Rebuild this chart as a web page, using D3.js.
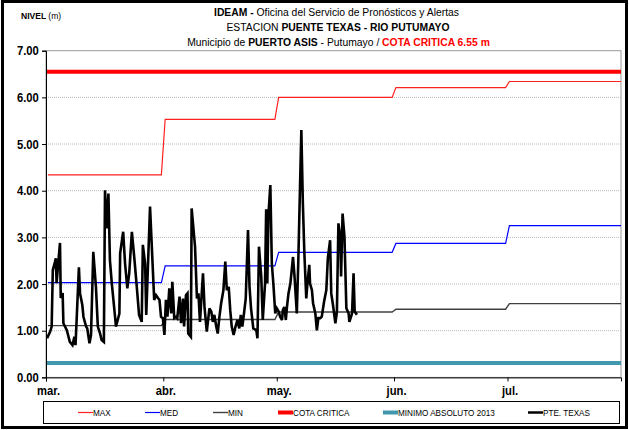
<!DOCTYPE html>
<html lang="es">
<head>
<meta charset="UTF-8">
<title>Nivel Puente Texas - Rio Putumayo</title>
<script src="https://d3js.org/d3.v7.min.js"></script>
<style>
    body { margin: 0; padding: 0; background: #fff; }
    svg { display: block; }
    text { font-family: "Liberation Sans Narrow", "Arial Narrow", "Liberation Sans", sans-serif; }
</style>
</head>
<body>
<svg id="chart" width="629" height="430"></svg>
<script>
// --- data ---
const monthLabels = ["mar.", "abr.", "may.", "jun.", "jul."];
const maxVals = [4.34, 5.53, 6.00, 6.21, 6.34];
const medVals = [2.03, 2.39, 2.68, 2.87, 3.25];
const minVals = [1.11, 1.24, 1.40, 1.46, 1.58];
const cotaCritica = 6.55;
const minimoAbsoluto = 0.31;
const yTicks = [0, 1, 2, 3, 4, 5, 6, 7];

// PTE. TEXAS readings: days after 1 March, level in m
const ptDays = [0.3, 1.1, 1.5, 1.8, 2.4, 2.6, 2.8, 3.3, 3.7, 3.9, 4.4, 4.6, 5.5, 6.3, 7.0, 7.5, 7.8, 8.1, 8.7, 9.0,
    9.6, 9.9, 10.6, 10.9, 11.5, 11.9, 12.5, 13.2, 13.7, 14.3, 14.7, 15.3, 15.6, 16.1, 16.5, 16.9, 17.4, 18.0, 18.5, 19.4,
    19.6, 20.4, 20.9, 21.5, 22.0, 22.7, 23.4, 24.0, 24.6, 25.3, 25.6, 26.2, 26.5, 27.5, 28.6, 29.1, 29.7, 30.0, 30.4, 30.9,
    31.3, 31.7, 32.1, 32.6, 33.1, 33.4, 33.9, 34.4, 34.7, 35.3, 35.7, 36.2, 36.5, 37.0, 37.4, 37.6, 38.3, 38.5, 39.4, 39.9,
    40.3, 40.7, 41.5, 41.9, 42.5, 43.2, 43.7, 44.1, 44.5, 45.0, 45.4, 45.8, 46.3, 46.9, 47.4, 47.8, 48.3, 48.7, 49.1, 49.6,
    50.1, 50.6, 51.1, 51.5, 51.9, 52.4, 52.8, 53.4, 53.8, 54.2, 54.8, 55.6, 55.9, 56.3, 56.9, 57.3, 57.9, 58.2, 58.5, 58.8,
    59.3, 59.7, 60.1, 60.6, 61.0, 61.5, 61.9, 62.4, 62.6, 63.0, 63.4, 63.7, 64.1, 64.6, 65.3, 65.7, 66.3, 66.7, 67.5, 67.9,
    68.3, 68.8, 69.1, 69.6, 69.8, 70.3, 70.6, 71.2, 71.6, 72.0, 72.5, 72.9, 73.5, 74.1, 74.5, 75.1, 75.4, 75.8, 76.5, 76.9,
    77.3, 77.8, 78.0, 78.4, 78.9, 79.4, 80.0, 80.2, 80.9, 81.3, 81.6, 82.2];
const ptLevels = [0.84, 0.98, 1.09, 2.30, 2.48, 2.55, 2.02, 2.51, 2.88, 1.70, 1.81, 1.16, 1.01, 0.76, 0.69, 0.87, 0.69, 1.23, 2.36, 1.80,
    1.55, 1.30, 1.09, 1.05, 0.73, 0.91, 2.69, 1.94, 1.09, 0.94, 0.80, 0.76, 4.01, 3.19, 3.94, 2.51, 2.01, 1.51, 1.09, 1.37,
    2.66, 3.12, 2.44, 1.91, 2.23, 3.12, 2.51, 1.94, 1.34, 1.19, 2.84, 2.44, 1.34, 3.66, 1.66, 1.76, 1.69, 1.66, 1.30, 1.27,
    0.91, 1.66, 1.30, 1.91, 1.37, 2.05, 1.27, 1.30, 1.27, 1.73, 1.16, 1.69, 1.09, 1.76, 1.80, 0.94, 0.87, 3.62, 2.80, 1.69,
    1.80, 1.19, 2.23, 1.51, 0.98, 1.48, 1.41, 1.19, 1.34, 1.09, 0.94, 1.27, 1.59, 1.87, 2.48, 1.87, 1.94, 1.44, 1.09, 0.91,
    1.09, 1.23, 1.05, 1.34, 1.09, 1.41, 1.69, 3.16, 1.94, 1.48, 1.05, 1.01, 0.84, 2.80, 2.16, 1.23, 2.01, 3.60, 2.01, 3.48,
    4.12, 2.44, 2.01, 1.37, 1.48, 1.41, 1.30, 1.23, 1.44, 1.51, 1.23, 1.51, 1.80, 2.01, 2.58, 2.16, 1.37, 2.51, 5.30, 3.73,
    2.66, 1.69, 2.01, 2.41, 2.01, 1.87, 1.59, 1.37, 1.01, 1.27, 1.27, 1.30, 1.62, 1.87, 2.55, 2.94, 1.80, 1.59, 1.16, 1.41,
    3.30, 3.01, 2.16, 3.51, 3.01, 1.48, 1.37, 1.19, 1.37, 2.23, 1.41, 1.34];

const DAY = 86400000;
const startDate = new Date(2014, 2, 1);
const endDate = new Date(2014, 6, 31);
const monthStarts = d3.timeMonth.range(startDate, endDate);

const plot = { left: 46, right: 621, top: 50.7, bottom: 377.4 };
const narrow = 0.9; // squeeze text horizontally, the original uses a condensed face

const svg = d3.select("#chart");

const x = d3.scaleTime().domain([startDate, endDate]).range([plot.left, plot.right]);
const y = d3.scaleLinear().domain([0, 7]).range([plot.bottom, plot.top]);

// monthly step series -> points at mid-day of first and last day of each month
const stepPoints = vals => {
    const pts = [];
    monthStarts.forEach((m, i) => {
        const next = d3.timeMonth.offset(m, 1);
        pts.push({ date: new Date(+m + DAY / 2), v: vals[i] });
        pts.push({ date: new Date(+next - DAY / 2), v: vals[i] });
    });
    return pts;
};

const ptData = ptDays.map((d, i) => ({ date: new Date(+startDate + d * DAY), v: ptLevels[i] }));

// clip
svg.append("defs").append("clipPath").attr("id", "clip")
    .append("rect")
    .attr("x", plot.left).attr("y", plot.top)
    .attr("width", plot.right - plot.left).attr("height", plot.bottom - plot.top);

// plot frame (grey top and right)
svg.append("rect")
    .attr("x", plot.left).attr("y", plot.top)
    .attr("width", plot.right - plot.left).attr("height", plot.bottom - plot.top)
    .attr("fill", "none").attr("stroke", "#999").attr("stroke-width", 1);

// grid
svg.append("g")
    .selectAll("line")
    .data(yTicks.filter(d => d > 0 && d < 7))
    .enter().append("line")
    .attr("x1", plot.left).attr("x2", plot.right)
    .attr("y1", d => y(d)).attr("y2", d => y(d))
    .attr("stroke", "#b8b8b8").attr("stroke-width", 1)
    .attr("stroke-dasharray", "1,1");

const line = d3.line().x(d => x(d.date)).y(d => y(d.v));
const g = svg.append("g").attr("clip-path", "url(#clip)");

// horizontal references
g.append("line")
    .attr("x1", plot.left).attr("x2", plot.right)
    .attr("y1", y(cotaCritica)).attr("y2", y(cotaCritica))
    .attr("stroke", "#ff0000").attr("stroke-width", 4);

g.append("line")
    .attr("x1", plot.left).attr("x2", plot.right)
    .attr("y1", y(minimoAbsoluto)).attr("y2", y(minimoAbsoluto))
    .attr("stroke", "#4197ad").attr("stroke-width", 4);

g.append("path").datum(stepPoints(maxVals))
    .attr("d", line).attr("fill", "none").attr("stroke", "#ff2020").attr("stroke-width", 1.2);
g.append("path").datum(stepPoints(medVals))
    .attr("d", line).attr("fill", "none").attr("stroke", "#0000ff").attr("stroke-width", 1.2);
g.append("path").datum(stepPoints(minVals))
    .attr("d", line).attr("fill", "none").attr("stroke", "#404040").attr("stroke-width", 1.4);

g.append("path").datum(ptData)
    .attr("d", line).attr("fill", "none").attr("stroke", "#000").attr("stroke-width", 2.6)
    .attr("stroke-linejoin", "miter").attr("stroke-miterlimit", 3);

// axes
const yAxis = svg.append("g")
    .attr("transform", `translate(${plot.left},0)`)
    .call(d3.axisLeft(y).tickValues(yTicks).tickFormat(d3.format(".2f")).tickSize(4).tickPadding(4));
yAxis.selectAll("text")
    .style("font-size", "12.5px").style("font-weight", "bold").attr("fill", "#000")
    .attr("transform", `scale(${narrow},1)`);
yAxis.selectAll("line, path").attr("stroke", "#000");

const xAxis = svg.append("g")
    .attr("transform", `translate(0,${plot.bottom})`)
    .call(d3.axisBottom(x).tickValues(monthStarts).tickFormat((d, i) => monthLabels[i]).tickSize(4).tickPadding(5));
xAxis.selectAll(".tick text")
    .style("font-size", "12.5px").style("font-weight", "bold").attr("fill", "#000")
    .attr("transform", `translate(2,0) scale(${narrow},1)`);
xAxis.selectAll("line, path").attr("stroke", "#000");

// titles
const titleText = (cx, yy) => svg.append("text")
    .attr("transform", `translate(${cx},${yy}) scale(${narrow},1)`)
    .attr("text-anchor", "middle").style("font-size", "11.5px");

const t1 = titleText(336.5, 16);
t1.append("tspan").style("font-weight", "bold").text("IDEAM - ");
t1.append("tspan").text("Oficina del Servicio de Pronósticos y Alertas");

const t2 = titleText(338, 31);
t2.append("tspan").text("ESTACION ");
t2.append("tspan").style("font-weight", "bold").text("PUENTE TEXAS - RIO PUTUMAYO");

const t3 = titleText(338.5, 46);
t3.append("tspan").text("Municipio de ");
t3.append("tspan").style("font-weight", "bold").text("PUERTO ASIS");
t3.append("tspan").text(" - Putumayo / ");
t3.append("tspan").style("font-weight", "bold").attr("fill", "#ff0000").text("COTA CRITICA 6.55 m");

const nivel = svg.append("text")
    .attr("transform", `translate(21,19) scale(${narrow},1)`).style("font-size", "9.5px");
nivel.append("tspan").style("font-weight", "bold").text("NIVEL ");
nivel.append("tspan").text("(m)");

// legend
const legendItems = [
    { name: "MAX", color: "#ff2020", w: 1.2, x: 78 },
    { name: "MED", color: "#0000ff", w: 1.2, x: 145 },
    { name: "MIN", color: "#404040", w: 1.4, x: 213 },
    { name: "COTA CRITICA", color: "#ff0000", w: 4, x: 278 },
    { name: "MINIMO ABSOLUTO 2013", color: "#4197ad", w: 4, x: 383 },
    { name: "PTE. TEXAS", color: "#000", w: 2.5, x: 528 }
];

svg.append("rect")
    .attr("x", 43.5).attr("y", 401.5).attr("width", 576).attr("height", 22)
    .attr("fill", "#fff").attr("stroke", "#000").attr("stroke-width", 1);

const leg = svg.append("g").selectAll("g").data(legendItems).enter().append("g")
    .attr("transform", d => `translate(${d.x},412.5)`);
leg.append("line").attr("x1", 0).attr("x2", 15)
    .attr("stroke", d => d.color).attr("stroke-width", d => d.w);
leg.append("text")
    .attr("transform", "translate(15,3.5) scale(0.86,1)")
    .style("font-size", "9.5px").text(d => d.name);

// outer frame
svg.append("rect")
    .attr("x", 2.5).attr("y", 1.5).attr("width", 624).attr("height", 426)
    .attr("fill", "none").attr("stroke", "#000").attr("stroke-width", 3);
</script>
</body>
</html>
